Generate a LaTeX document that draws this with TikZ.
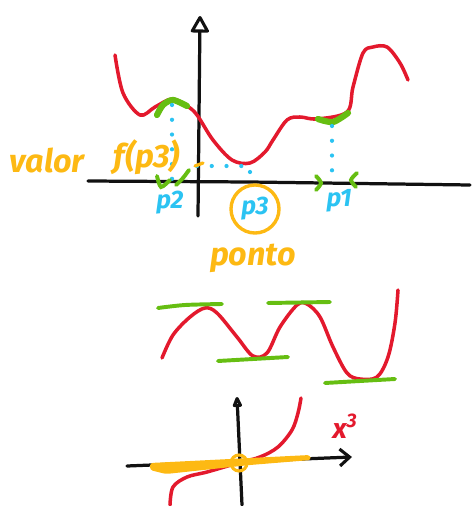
\documentclass[tikz,border=0pt]{standalone}
\usepackage{fontspec}
\setsansfont{Fira Sans}
\usetikzlibrary{arrows.meta,positioning}
\definecolor{skred}{HTML}{E3192D}
\definecolor{skgreen}{HTML}{66BE12}
\definecolor{skorange}{HTML}{FDB913}
\definecolor{skblue}{HTML}{2BC3F2}
\definecolor{skink}{HTML}{111111}
\tikzset{
  skaxis/.style  ={draw=skink, line width=2.3pt, line cap=round},
  skcurve/.style ={draw=skred, line width=2.5pt, line cap=round, line join=round},
  skmark/.style  ={draw=skgreen, line width=4.4pt, line cap=round},
  sktan/.style   ={draw=skgreen, line width=2.8pt, line cap=round},
  skdots/.style  ={draw=skblue, line width=3pt, line cap=round, dash pattern=on 0pt off 10.5pt},
  skhand/.style  ={font=\sffamily\bfseries\itshape\fontsize{23}{25}\selectfont, text=skorange, inner sep=0pt},
  skpt/.style    ={font=\sffamily\bfseries\itshape\fontsize{18}{20}\selectfont, text=skblue, inner sep=0pt},
  skloop/.style  ={-{Triangle[open,round,length=13pt,width=14pt,line width=2.2pt]}},
  skloopsm/.style={-{Triangle[open,round,length=9pt,width=7pt,line width=2.2pt]}},
  skbarb/.style  ={-{Straight Barb[length=7pt,width=12pt,line width=2.2pt]}},
}
\begin{document}
\begin{tikzpicture}[x=0.025cm, y=-0.025cm]
  \useasboundingbox (0,0) rectangle (472,506);
  % top sketch
  \coordinate (ytop) at (200,16);
  \coordinate (ybot) at (198,216);
  \coordinate (xleft) at (88,181);
  \coordinate (xright) at (470,185);
  \draw[skaxis] (xleft) -- (250,182) -- (xright);
  \draw[skaxis, skloop] (ybot) -- (ytop);
  \draw[skcurve] plot[smooth, tension=0.55] coordinates {(115,55) (123,93) (140,115) (155,107)
    (172,99) (187,106) (197,115) (213,140) (232,160) (250,163) (265,152) (273,140) (287,120)
    (300,117) (317,119) (347,112) (353,87) (363,53) (373,47) (387,47) (400,63) (408,80)};
  \draw[skmark] plot[smooth] coordinates {(157,115) (163,105) (173,100) (187,106)};
  \draw[skmark] plot[smooth] coordinates {(318,119) (333,122) (348,113)};
  \draw[skdots] (172,105) -- (172,180);
  \draw[skdots] (197,166) -- (250,166);
  \draw[skdots] (250,172) -- (250,183);
  \draw[skdots] (332,126) -- (332,172);
  \draw[sktan] plot[smooth] coordinates {(157,176) (161,187) (170,180)};
  \draw[sktan] plot[smooth] coordinates {(176,185) (183,178) (189,170)};
  \draw[sktan] plot[smooth] coordinates {(316,176) (321,183) (316,190)};
  \draw[sktan] plot[smooth] coordinates {(357,173) (351,180) (356,187)};
  \draw[draw=skorange, line width=2.3pt, line cap=round] (195,166) -- (203,163);
  \node[skhand] (valor) at (47,160) {valor};
  \node[skhand] (fval) at (147,157) {f(p3)};
  \node[skpt] (ptwo) at (170,203) {p2};
  \node[skpt] (pone) at (339,201) {p1};
  \node[skpt, circle, draw=skorange, line width=2.4pt, minimum size=1.2cm] (pthree) at (255,209) {p3};
  \node[skhand] (ponto) at (253,258) {ponto};
  % middle sketch
  \draw[skcurve] plot[smooth, tension=0.55] coordinates {(162,358) (173,335) (190,317) (205,308)
    (217,313) (237,337) (253,356) (267,353) (280,327) (297,305) (307,304) (320,317) (333,347)
    (347,373) (360,379) (377,377) (388,357) (395,323) (398,290)};
  \draw[sktan] plot[smooth] coordinates {(158,308) (185,305) (222,304)};
  \foreach \a/\b in {{(218,361)}/{(288,357)}, {(268,303)}/{(330,302)}, {(325,383)}/{(395,379)}}
    \draw[sktan] \a -- \b;
  % bottom sketch
  \coordinate (cubxl) at (127,466);
  \coordinate (cubxr) at (352,457);
  \coordinate (cubyb) at (242,505);
  \coordinate (cubyt) at (237,397);
  \draw[skaxis, skbarb] (cubxl) -- (cubxr);
  \draw[skaxis, skloopsm] (cubyb) -- (cubyt);
  \draw[skcurve] plot[smooth, tension=0.55] coordinates {(170,505) (173,487) (187,477) (207,472)
    (238,463) (260,457) (278,447) (292,430) (298,413) (301,398)};
  \fill[skorange, rounded corners=2pt] (150,463) -- (310,455) -- (311,460) -- (250,465)
    -- (166,474) -- (150,470) -- cycle;
  \node[circle, draw=skorange, line width=2.2pt, minimum size=0.4cm, inner sep=0pt] (origin) at (239,463) {};
  \node[font=\sffamily\bfseries\itshape\fontsize{20}{22}\selectfont, text=skred, inner sep=0pt] (cube) at (345,426) {x\textsuperscript{3}};
\end{tikzpicture}
\end{document}
